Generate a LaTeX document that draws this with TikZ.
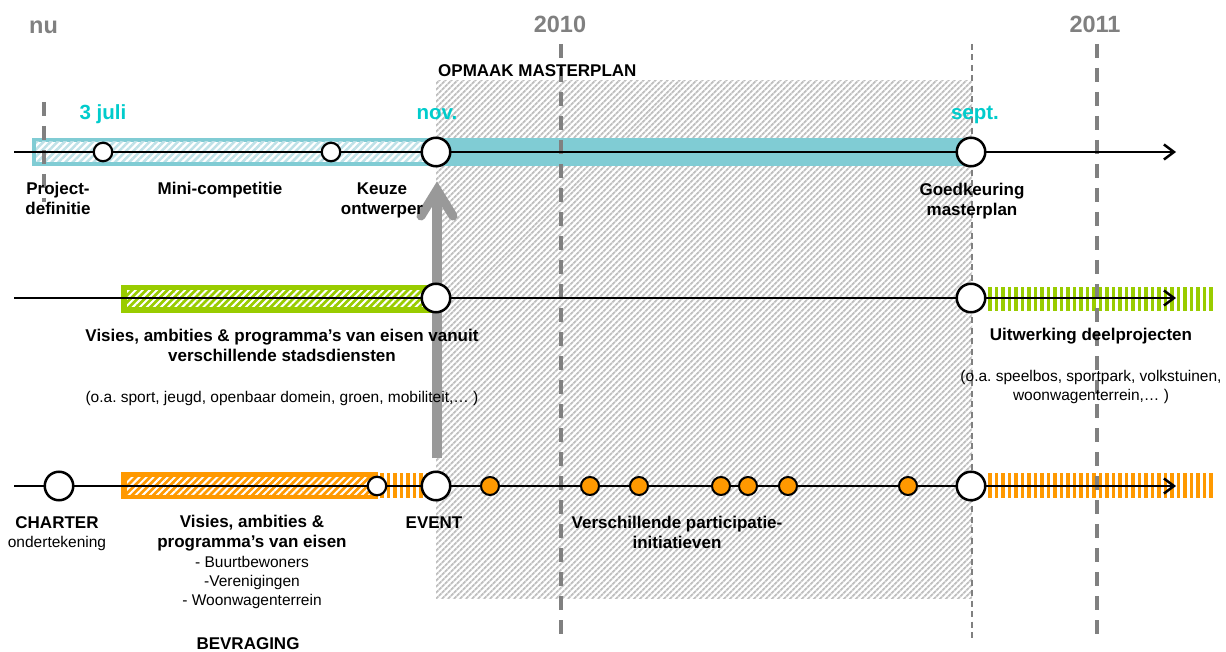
\documentclass[tikz,border=0pt]{standalone}
\usepackage{fontspec}
\setmainfont{Liberation Sans}
\usetikzlibrary{arrows.meta,patterns.meta}
\frenchspacing
\definecolor{cyanbar}{RGB}{128,204,212}
\definecolor{cyantxt}{RGB}{0,204,204}
\definecolor{cyanhatch}{RGB}{190,225,231}
\definecolor{grn}{RGB}{153,204,0}
\definecolor{org}{RGB}{255,153,0}
\definecolor{gtxt}{RGB}{128,128,128}
\definecolor{garw}{RGB}{153,153,153}
\definecolor{hatchc}{RGB}{192,192,192}
\begin{document}
\begin{tikzpicture}[x=1pt,y=-1pt,
  tl/.style={line width=2.5pt,-{Straight Barb[length=10pt,width=15pt]}},
  bigc/.style={circle,draw,line width=2.5pt,fill=white,minimum size=28.5pt,inner sep=0pt},
  smallc/.style={circle,draw,line width=2.2pt,fill=white,minimum size=18.5pt,inner sep=0pt},
  dotc/.style={circle,draw,line width=2pt,fill=org,minimum size=18pt,inner sep=0pt},
  lbl/.style={font=\fontsize{17}{20}\selectfont\bfseries,align=center,anchor=base,inner sep=0pt},
  sub/.style={font=\fontsize{15.5}{19}\selectfont,align=center,anchor=base,inner sep=0pt},
  year/.style={font=\fontsize{23.5}{28}\selectfont\bfseries,text=gtxt,anchor=base,inner sep=0pt},
  month/.style={font=\fontsize{20.5}{24}\selectfont\bfseries,text=cyantxt,anchor=base,inner sep=0pt},
  yearline/.style={draw=gtxt,line width=3.5pt,dash pattern=on 14pt off 10pt},
  thinline/.style={draw=gtxt,line width=1.8pt,dash pattern=on 6pt off 4.5pt},
  bighatch/.style={pattern={Lines[angle=45,distance=4pt,line width=2pt]},pattern color=hatchc},
  barhatch/.style={pattern={Lines[angle=45,distance=5pt,line width=2pt]},pattern color=white},
  cyhatch/.style={pattern={Lines[angle=45,distance=5pt,line width=2.5pt]},pattern color=cyanhatch},
  garrow/.style={draw=garw,line width=10pt},
  ghead/.style={draw=garw,line width=9pt,line cap=round,line join=miter},
]
\useasboundingbox (0,0) rectangle (1226,652);
\fill[white] (0,0) rectangle (1226,652);

% masterplan period
\fill[white] (436,81) rectangle (972,598);
\fill[bighatch] (436,81) rectangle (972,598);

% bars row 1
\fill[cyanbar] (32,138) rectangle (971,166);
\fill[white] (36,142) rectangle (436,162);
\fill[cyhatch] (36,142) rectangle (436,162);
% bars row 2
\fill[grn] (121,285) rectangle (436,313);
\fill[barhatch] (127,291) rectangle (436,307);
\foreach \x in {988,994.5,...,1212} \fill[grn] (\x,287) rectangle ++(3.5,24);
% bars row 3
\fill[org] (121,472) rectangle (378,499);
\fill[barhatch] (127,477) rectangle (370,494);
\foreach \x in {380,386.5,...,428} \fill[org] (\x,473) rectangle ++(3.5,25);
\foreach \x in {988,994.5,...,1212} \fill[org] (\x,473) rectangle ++(3.5,25);

% time markers
\draw[yearline] (44,102) -- (44,202);
\draw[yearline] (561,44) -- (561,640);
\draw[yearline] (1097,44) -- (1097,640);
\draw[thinline] (972,44) -- (972,640);

% big grey arrow
\coordinate (gbot) at (437,458);
\coordinate (gtop) at (437,190);
\draw[garrow] (gbot) -- ([yshift=-6pt]gtop);
\draw[ghead] (421,216) -- (gtop) -- (453,216);

% timelines
\coordinate (r1s) at (14,152); \coordinate (r1e) at (1176,152);
\coordinate (r2s) at (14,298); \coordinate (r2e) at (1176,298);
\coordinate (r3s) at (14,486); \coordinate (r3e) at (1176,486);
\draw[tl] (r1s) -- (r1e);
\draw[tl] (r2s) -- (r2e);
\draw[tl] (r3s) -- (r3e);

% milestones
\node[smallc] (p1) at (103,152) {};
\node[smallc] (p2) at (331,152) {};
\node[bigc] (nov) at (436,152) {};
\node[bigc] (sep1) at (971,152) {};
\node[bigc] (g1) at (436,298) {};
\node[bigc] (sep2) at (971,298) {};
\node[bigc] (charter) at (59,486) {};
\node[smallc] (b1) at (377,486) {};
\node[bigc] (event) at (436,486) {};
\foreach \x [count=\i] in {490,590,639,721,748,788,908}
  \node[dotc] (d\i) at (\x,486) {};
\node[bigc] (sep3) at (971,486) {};

% top labels
\node[year] (tnu) at (43.5,34) {nu};
\node[year] (t2010) at (560,33) {2010};
\node[year] (t2011) at (1095,33) {2011};
\node[month] (m1) at (103,120) {3 juli};
\node[month] (m2) at (437,120) {nov.};
\node[month] (m3) at (975,120) {sept.};
\node[lbl,anchor=base west] (opm) at (438,77) {OPMAAK MASTERPLAN};

% row 1 labels (base = baseline of last line)
\node[lbl] (l1) at (58,215) {Project-\\definitie};
\node[lbl] (l2) at (220,195) {Mini-competitie};
\node[lbl] (l3) at (382,215) {Keuze\\ontwerper};
\node[lbl] (l4) at (972,216) {Goedkeuring\\masterplan};

% row 2 labels
\node[lbl] (l5) at (282,361) {Visies, ambities \& programma’s van eisen vanuit\\verschillende stadsdiensten};
\node[sub] (l6) at (282,402) {(o.a. sport, jeugd, openbaar domein, groen, mobiliteit,… )};
\node[lbl] (l7) at (1091,340) {Uitwerking deelprojecten};
\node[sub] (l8) at (1091,400) {(o.a. speelbos, sportpark, volkstuinen,\\woonwagenterrein,… )};

% row 3 labels
\node[lbl] (l9) at (57,528) {CHARTER};
\node[sub] (l10) at (57,547) {ondertekening};
\node[lbl] (l11) at (252,547) {Visies, ambities \&\\programma’s van eisen};
\node[sub] (l12) at (252,605) {- Buurtbewoners\\-Verenigingen\\- Woonwagenterrein};
\node[lbl] (l13) at (248,649) {BEVRAGING};
\node[lbl] (l14) at (434,528) {EVENT};
\node[lbl] (l15) at (677,548) {Verschillende participatie-\\initiatieven};
\end{tikzpicture}
\end{document}
